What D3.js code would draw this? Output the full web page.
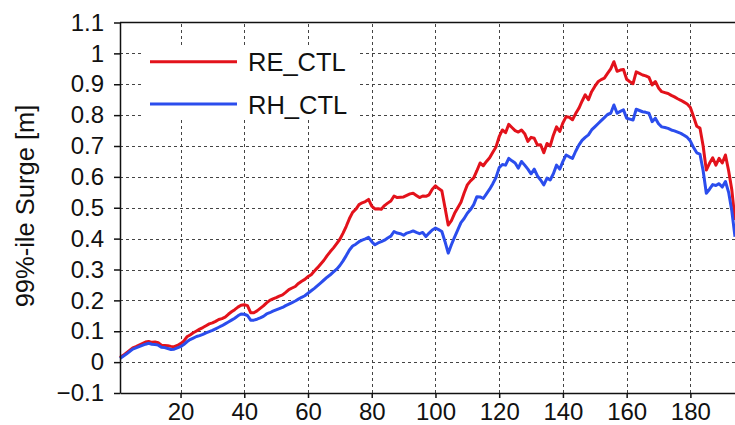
<!DOCTYPE html>
<html>
<head>
<meta charset="utf-8">
<script src="https://cdn.jsdelivr.net/npm/d3@7"></script>
<style>
    body { margin: 0; background: #fff; }
    svg { display: block; font-family: "Liberation Sans", Arial, Helvetica, sans-serif; }
</style>
</head>
<body>
<svg width="735" height="425"></svg>
<script>
// station index along the coast
const stations = d3.range(1, 195);

const reCtl = [
    0.015, 0.022, 0.030, 0.038, 0.046, 0.050, 0.055, 0.060, 0.065, 0.067,
    0.064, 0.065, 0.063, 0.055, 0.054, 0.053, 0.051, 0.050, 0.054, 0.060,
    0.068, 0.082, 0.088, 0.095, 0.101, 0.107, 0.112, 0.118, 0.124, 0.127,
    0.132, 0.138, 0.141, 0.146, 0.155, 0.163, 0.170, 0.178, 0.184, 0.186,
    0.183, 0.160, 0.160, 0.166, 0.174, 0.182, 0.192, 0.200, 0.205, 0.209,
    0.214, 0.218, 0.226, 0.235, 0.240, 0.245, 0.255, 0.262, 0.268, 0.277,
    0.283, 0.295, 0.306, 0.318, 0.330, 0.345, 0.358, 0.370, 0.384, 0.398,
    0.418, 0.440, 0.465, 0.485, 0.495, 0.510, 0.516, 0.520, 0.527, 0.505,
    0.496, 0.497, 0.495, 0.507, 0.515, 0.522, 0.538, 0.533, 0.534, 0.535,
    0.540, 0.545, 0.547, 0.540, 0.533, 0.538, 0.537, 0.542, 0.560, 0.571,
    0.562, 0.555, 0.500, 0.444, 0.458, 0.482, 0.500, 0.518, 0.548, 0.574,
    0.587, 0.597, 0.620, 0.645, 0.636, 0.650, 0.662, 0.680, 0.697, 0.730,
    0.752, 0.743, 0.770, 0.760, 0.750, 0.745, 0.752, 0.740, 0.715, 0.728,
    0.725, 0.703, 0.704, 0.678, 0.708, 0.700, 0.735, 0.762, 0.747, 0.775,
    0.795, 0.793, 0.785, 0.805, 0.822, 0.845, 0.866, 0.850, 0.876, 0.893,
    0.908, 0.915, 0.920, 0.935, 0.950, 0.973, 0.942, 0.946, 0.948, 0.916,
    0.908, 0.902, 0.940, 0.935, 0.930, 0.927, 0.922, 0.898, 0.909, 0.888,
    0.876, 0.873, 0.870, 0.864, 0.859, 0.853, 0.848, 0.842, 0.836, 0.825,
    0.795, 0.764, 0.758, 0.700, 0.622, 0.644, 0.662, 0.638, 0.660, 0.645,
    0.671, 0.620, 0.558, 0.460
];

const rhCtl = [
    0.012, 0.019, 0.026, 0.034, 0.042, 0.046, 0.050, 0.054, 0.058, 0.061,
    0.058, 0.057, 0.055, 0.048, 0.047, 0.044, 0.041, 0.042, 0.046, 0.050,
    0.057, 0.066, 0.073, 0.078, 0.083, 0.086, 0.090, 0.095, 0.099, 0.103,
    0.108, 0.113, 0.118, 0.124, 0.130, 0.136, 0.142, 0.150, 0.156, 0.155,
    0.151, 0.136, 0.136, 0.139, 0.143, 0.148, 0.156, 0.160, 0.165, 0.169,
    0.173, 0.177, 0.183, 0.188, 0.193, 0.198, 0.204, 0.210, 0.215, 0.223,
    0.231, 0.239, 0.248, 0.257, 0.266, 0.275, 0.283, 0.292, 0.301, 0.313,
    0.328, 0.345, 0.363, 0.376, 0.382, 0.390, 0.395, 0.399, 0.404, 0.390,
    0.380, 0.386, 0.390, 0.395, 0.402, 0.408, 0.423, 0.418, 0.416, 0.411,
    0.418, 0.421, 0.425, 0.420, 0.416, 0.420, 0.407, 0.418, 0.428, 0.434,
    0.429, 0.423, 0.390, 0.353, 0.380, 0.405, 0.428, 0.452, 0.465, 0.482,
    0.494, 0.510, 0.536, 0.535, 0.530, 0.545, 0.560, 0.578, 0.598, 0.630,
    0.640, 0.638, 0.660, 0.652, 0.645, 0.628, 0.650, 0.638, 0.625, 0.610,
    0.625, 0.603, 0.590, 0.574, 0.596, 0.590, 0.610, 0.638, 0.625, 0.650,
    0.671, 0.665, 0.660, 0.683, 0.703, 0.718, 0.728, 0.736, 0.752, 0.762,
    0.772, 0.782, 0.792, 0.802, 0.806, 0.833, 0.806, 0.812, 0.817, 0.790,
    0.787, 0.784, 0.819, 0.815, 0.811, 0.809, 0.806, 0.779, 0.790, 0.772,
    0.762, 0.760, 0.757, 0.752, 0.749, 0.745, 0.741, 0.735, 0.728, 0.716,
    0.695, 0.678, 0.674, 0.620, 0.547, 0.560, 0.575, 0.572, 0.578, 0.567,
    0.585, 0.550, 0.490, 0.406
];

const xTicks = [20, 40, 60, 80, 100, 120, 140, 160, 180];
const yTicks = [-0.1, 0, 0.1, 0.2, 0.3, 0.4, 0.5, 0.6, 0.7, 0.8, 0.9, 1, 1.1];
const yTickLabels = ["\u22120.1", "0", "0.1", "0.2", "0.3", "0.4", "0.5", "0.6", "0.7", "0.8", "0.9", "1", "1.1"];

const seriesNames = ["RE_CTL", "RH_CTL"];
const seriesColors = ["#e3121b", "#2b4ded"];

let svg = d3.select("svg");

let x = d3.scaleLinear()
    .domain([1, 194])
    .range([120, 735]);

let y = d3.scaleLinear()
    .domain([-0.1, 1.1])
    .range([393, 22.5]);

// grid
let grid = svg.append("g")
    .attr("stroke", "#444")
    .attr("stroke-width", 1)
    .attr("stroke-dasharray", "3,3");

grid.selectAll("line.h")
    .data(yTicks.filter(d => d > -0.1 && d < 1.1))
    .enter()
    .append("line")
    .attr("x1", x.range()[0])
    .attr("x2", x.range()[1])
    .attr("y1", d => Math.round(y(d)) + 0.5)
    .attr("y2", d => Math.round(y(d)) + 0.5);

grid.selectAll("line.v")
    .data(xTicks)
    .enter()
    .append("line")
    .attr("x1", d => Math.round(x(d)) + 0.5)
    .attr("x2", d => Math.round(x(d)) + 0.5)
    .attr("y1", y.range()[0])
    .attr("y2", y.range()[1]);

// legend box hides the grid behind it
svg.append("rect")
    .attr("x", 143)
    .attr("y", 47)
    .attr("width", 217)
    .attr("height", 73)
    .attr("fill", "#fff");

// series
let line = d3.line()
    .x((d, i) => x(stations[i]))
    .y(d => y(d));

[reCtl, rhCtl].forEach((values, k) => {
    svg.append("path")
        .datum(values)
        .attr("d", line)
        .attr("fill", "none")
        .attr("stroke", seriesColors[k])
        .attr("stroke-width", 3)
        .attr("stroke-linejoin", "round");
});

// axes
let xAxis = d3.axisBottom(x)
    .tickValues(xTicks)
    .tickSize(5)
    .tickSizeOuter(0)
    .tickPadding(5);

let yAxis = d3.axisLeft(y)
    .tickValues(yTicks)
    .tickFormat((d, i) => yTickLabels[i])
    .tickSize(6)
    .tickSizeOuter(0)
    .tickPadding(10);

let gx = svg.append("g")
    .attr("transform", `translate(0,${y(-0.1)})`)
    .call(xAxis);

let gy = svg.append("g")
    .attr("transform", `translate(${x(1)},0)`)
    .call(yAxis);

[gx, gy].forEach(g => {
    g.selectAll("path, line").attr("stroke", "#111").attr("stroke-width", 1.5);
    g.selectAll("text")
        .attr("fill", "#111")
        .style("font-size", "24px")
        .style("font-family", "'Liberation Sans', Arial, sans-serif");
});

// top frame
svg.append("line")
    .attr("x1", x.range()[0])
    .attr("x2", x.range()[1])
    .attr("y1", y(1.1))
    .attr("y2", y(1.1))
    .attr("stroke", "#111")
    .attr("stroke-width", 1.5);

// y label
svg.append("text")
    .attr("transform", "translate(34,206) rotate(-90)")
    .attr("text-anchor", "middle")
    .attr("fill", "#111")
    .style("font-size", "25.5px")
    .text("99%-ile Surge [m]");

// legend
let legend = svg.append("g");
seriesNames.forEach((name, k) => {
    let ly = 61.7 + k * 42.3;
    legend.append("line")
        .attr("x1", 150)
        .attr("x2", 237)
        .attr("y1", ly)
        .attr("y2", ly)
        .attr("stroke", seriesColors[k])
        .attr("stroke-width", 3);
    legend.append("text")
        .attr("x", 248)
        .attr("y", ly + 9.5)
        .attr("fill", "#111")
        .style("font-size", "25.5px")
        .text(name);
});
</script>
</body>
</html>
